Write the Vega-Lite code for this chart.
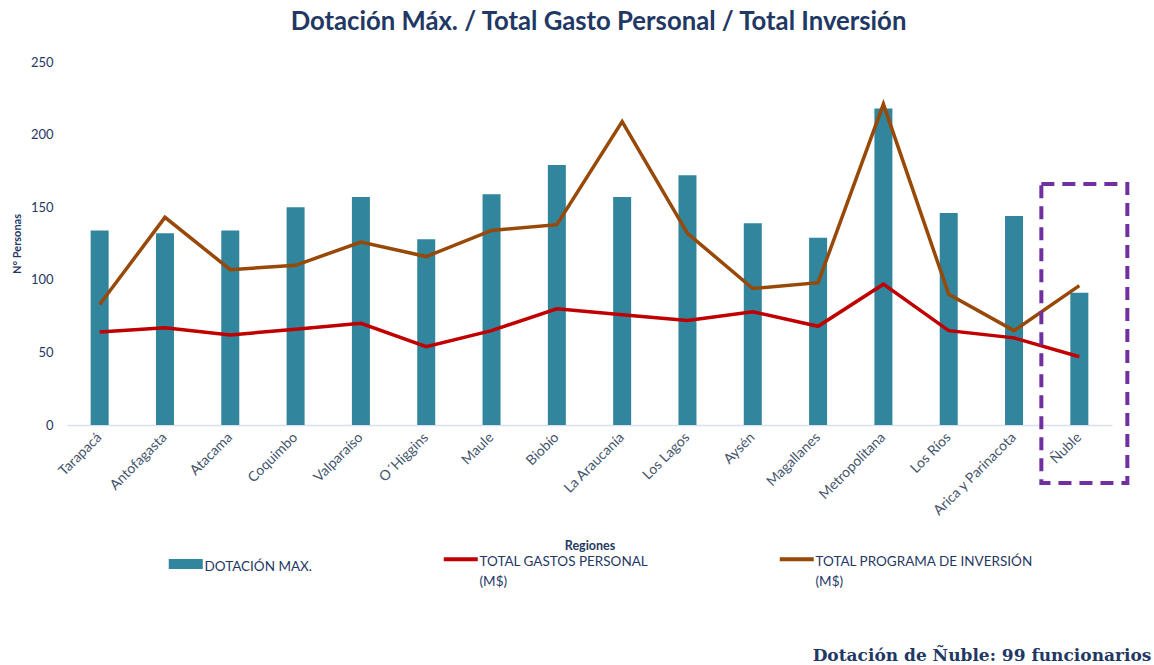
{
  "$schema": "https://vega.github.io/schema/vega-lite/v6.json",
  "autosize": "none",
  "width": 1045,
  "height": 363,
  "padding": {"left": 67, "top": 62, "right": 42, "bottom": 240},
  "background": "white",
  "config": {
    "view": {"stroke": null},
    "font": "Lato"
  },
  "title": {
    "text": "Dotación Máx. / Total Gasto Personal / Total Inversión",
    "font": "Lato",
    "fontSize": 25.7,
    "fontWeight": "bold",
    "color": "#1f3864",
    "anchor": "middle",
    "dx": 9,
    "offset": 20
  },
  "data": {
    "values": [
      {"region": "Tarapacá", "dot": 134, "gastos": 64, "inv": 83},
      {"region": "Antofagasta", "dot": 132, "gastos": 67, "inv": 143},
      {"region": "Atacama", "dot": 134, "gastos": 62, "inv": 107},
      {"region": "Coquimbo", "dot": 150, "gastos": 66, "inv": 110},
      {"region": "Valparaíso", "dot": 157, "gastos": 70, "inv": 126},
      {"region": "O´Higgins", "dot": 128, "gastos": 54, "inv": 116},
      {"region": "Maule", "dot": 159, "gastos": 65, "inv": 134},
      {"region": "Biobío", "dot": 179, "gastos": 80, "inv": 138},
      {"region": "La Araucanía", "dot": 157, "gastos": 76, "inv": 209},
      {"region": "Los Lagos", "dot": 172, "gastos": 72, "inv": 132},
      {"region": "Aysén", "dot": 139, "gastos": 78, "inv": 94},
      {"region": "Magallanes", "dot": 129, "gastos": 68, "inv": 98},
      {"region": "Metropolitana", "dot": 218, "gastos": 97, "inv": 221},
      {"region": "Los Ríos", "dot": 146, "gastos": 65, "inv": 90},
      {"region": "Arica y Parinacota", "dot": 144, "gastos": 60, "inv": 65},
      {"region": "Ñuble", "dot": 91, "gastos": 47, "inv": 96}
    ]
  },
  "encoding": {
    "x": {
      "field": "region",
      "type": "nominal",
      "sort": null,
      "scale": {"paddingInner": 0, "paddingOuter": 0},
      "axis": {
        "title": "Regiones",
        "titleFont": "Lato",
        "titleFontSize": 12.5,
        "titleFontWeight": "bold",
        "titleColor": "#1f3864",
        "titleY": 120,
        "titleBaseline": "middle",
        "labelAngle": -45,
        "labelAlign": "right",
        "labelBaseline": "middle",
        "labelPadding": 10,
        "labelFont": "Lato",
        "labelFontSize": 14,
        "labelColor": "#44546a",
        "ticks": false,
        "domainColor": "#d6e0ee",
        "domainWidth": 1.5,
        "labelLimit": 300
      }
    }
  },
  "layer": [
    {
      "mark": {"type": "bar", "width": 18},
      "encoding": {
        "y": {
          "field": "dot",
          "type": "quantitative",
          "scale": {"domain": [0, 250], "nice": false},
          "axis": {
            "title": "N° Personas",
            "titleFont": "Lato",
            "titleFontSize": 11,
            "titleFontWeight": "bold",
            "titleColor": "#1f3864",
            "titlePadding": 8,
            "values": [0, 50, 100, 150, 200, 250],
            "grid": false,
            "domain": false,
            "ticks": false,
            "labelPadding": 14,
            "labelFont": "Lato",
            "labelFontSize": 13,
            "labelColor": "#1f3864"
          }
        },
        "color": {
          "datum": "dot",
          "type": "nominal",
          "title": null,
          "scale": {"domain": ["dot", "gastos", "inv"], "range": ["#31859c", "#c00000", "#984807"]},
          "legend": {
            "orient": "none",
            "legendX": 112,
            "legendY": 490,
            "direction": "horizontal",
            "columns": 3,
            "columnPadding": 122,
            "padding": 0,
            "title": null,
            "symbolType": "stroke",
            "symbolSize": 1156,
            "symbolStrokeWidth": 4,
            "labelFont": "Lato",
            "labelFontSize": 13.5,
            "labelColor": "#1f3864",
            "labelLimit": 400,
            "labelOffset": 12,
            "labelExpr": "datum.value == 'dot' ? 'DOTACIÓN MAX.' : datum.value == 'gastos' ? ['TOTAL GASTOS PERSONAL', '(M$)'] : ['TOTAL PROGRAMA DE INVERSIÓN', '(M$)']",
            "labelBaseline": "top",
            "encode": {
              "symbols": {"update": {"strokeWidth": {"signal": "datum.value == 'dot' ? 10 : 4"}, "stroke": {"scale": "color", "field": "value"}}},
              "labels": {"update": {"lineHeight": {"value": 20}, "dy": {"value": -4}}}
            }
          }
        }
      }
    },
    {
      "transform": [{"fold": ["gastos", "inv"], "as": ["serie", "valor"]}],
      "mark": {"type": "line", "strokeWidth": 3.5},
      "encoding": {
        "y": {"field": "valor", "type": "quantitative"},
        "color": {"field": "serie", "type": "nominal", "title": null}
      }
    },
    {
      "data": {"values": [{}]},
      "mark": {"type": "bar", "width": 86, "xOffset": 5, "fill": null, "fillOpacity": 0, "stroke": "#7030a0", "strokeWidth": 4, "strokeDash": [13, 8], "clip": false},
      "encoding": {
        "x": {"datum": "Ñuble"},
        "y": {"datum": -40},
        "y2": {"datum": 166}
      }
    },
    {
      "data": {"values": [{}]},
      "mark": {"type": "text", "align": "right", "baseline": "middle", "dx": 72, "font": "DejaVu Serif", "fontWeight": "bold", "fontSize": 17, "color": "#1f3864"},
      "encoding": {
        "x": {"datum": "Ñuble"},
        "y": {"datum": -159},
        "text": {"value": "Dotación de Ñuble: 99 funcionarios"}
      }
    }
  ]
}
